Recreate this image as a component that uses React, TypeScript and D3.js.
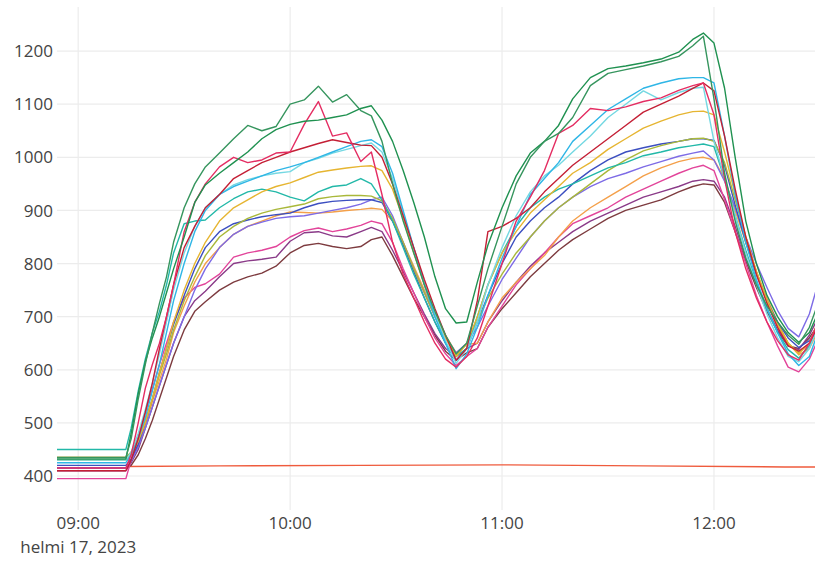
import * as d3 from "d3";

// minutes after 09:00 (helmi 17, 2023)
const minutes = [-6, 13.5, 15, 17, 19, 21, 23, 25, 27, 30, 33, 36, 40, 44, 48, 52, 56, 60,
  64, 68, 72, 76, 80, 83,
  86, 89, 92, 95, 98, 101, 104, 107, 110,
  113, 116, 120, 124, 128, 132, 136, 140, 145, 150, 155, 160, 165, 170, 174, 177,
  180, 183, 186, 189, 192, 195, 198, 201, 204, 207, 210];

const greenA = [435, 435, 470, 545, 610, 670, 725, 775, 840, 905, 950, 982, 1008, 1035, 1060, 1050, 1058, 1100,
  1108, 1134, 1104, 1118, 1088, 1078,
  1030, 950, 880, 820, 760, 710, 665, 630, 650,
  720, 790, 870, 950, 1000, 1030, 1045, 1075, 1135, 1158, 1165, 1172, 1180, 1190, 1210, 1228,
  1110, 970, 880, 810, 760, 720, 690, 665, 648, 680, 735];
const greenB = [432, 432, 480, 555, 615, 660, 700, 745, 790, 850, 915, 948, 970, 990, 1010, 1035, 1052, 1062,
  1068, 1070, 1075, 1080, 1092, 1097,
  1070, 1030, 975, 915, 850, 775, 715, 688, 690,
  765, 835, 905, 965, 1008, 1030, 1060, 1110, 1150, 1167, 1172, 1178, 1185, 1198, 1222, 1234,
  1215, 1130, 1000, 880, 800, 740, 700, 670, 652, 670, 715];
const teal = [450, 450, 490, 560, 620, 670, 710, 760, 820, 875, 880, 882, 905, 922, 935, 940, 935, 925,
  918, 935, 945, 948, 960, 950,
  920, 880, 830, 780, 735, 690, 650, 625, 640,
  700, 760, 820, 870, 905, 925, 940, 950, 965, 980, 990, 1003, 1010, 1018, 1022, 1025,
  1020, 960, 890, 825, 765, 715, 670, 638, 622, 645, 690];
const crimson = [415, 415, 440, 500, 565, 610, 650, 700, 760, 860, 915, 950, 982, 1000, 990, 995, 1008, 1010,
  1062, 1105, 1040, 1046, 992, 1010,
  930, 840, 780, 735, 690, 650, 620, 605, 625,
  660, 720, 800, 880, 925, 975, 1045, 1060, 1092, 1088, 1095, 1105, 1112, 1126, 1135, 1140,
  1080, 960, 860, 790, 735, 690, 655, 628, 618, 650, 700];
const darkRed = [410, 410, 430, 470, 520, 575, 640, 700, 760, 830, 870, 905, 930, 960, 975, 990, 1000, 1010,
  1018, 1026, 1033, 1028, 1023, 1022,
  1000, 950, 890, 830, 770, 715, 665, 618, 640,
  730, 860, 870, 885, 905, 935, 960, 985, 1010, 1035, 1060, 1085, 1100, 1115, 1130, 1140,
  1125, 1040, 940, 850, 780, 725, 680, 645, 635, 650, 690];
const skyBlue = [425, 425, 440, 470, 510, 560, 610, 670, 730, 800, 860, 900, 930, 945, 955, 965, 975, 982,
  990, 1000, 1010, 1020, 1030, 1033,
  1020, 970, 900, 830, 760, 700, 650, 602, 630,
  680, 740, 810, 870, 930, 960, 990, 1030, 1060, 1090, 1110, 1130, 1140, 1148, 1150, 1150,
  1140, 1040, 930, 840, 770, 715, 670, 630, 608, 625, 680];
const paleCyan = [430, 430, 445, 480, 525, 575, 630, 690, 750, 820, 870, 905, 930, 948, 958, 965, 970, 973,
  990, 998, 1008, 1015, 1022, 1027,
  1010, 960, 895, 830, 765, 705, 655, 612, 640,
  690, 760, 830, 890, 935, 965, 985, 1010, 1040, 1075, 1100, 1125, 1108, 1122, 1130, 1132,
  1030, 960, 890, 820, 760, 705, 660, 625, 615, 640, 690];
const gold = [430, 430, 440, 465, 500, 545, 595, 640, 690, 750, 800, 840, 880, 905, 920, 935, 945, 952,
  962, 972, 976, 980, 983, 984,
  975, 940, 885, 820, 760, 705, 660, 625, 650,
  700, 760, 820, 860, 895, 920, 945, 970, 990, 1015, 1035, 1055, 1068, 1080, 1086, 1087,
  1080, 1010, 930, 850, 785, 730, 685, 650, 630, 650, 700];
const olive = [435, 435, 445, 470, 505, 545, 590, 630, 675, 730, 775, 815, 850, 870, 885, 895, 902, 907,
  912, 922, 926, 928, 928, 927,
  918, 885, 840, 790, 745, 700, 660, 628, 648,
  690, 735, 780, 820, 850, 880, 905, 925, 950, 975, 995, 1012, 1022, 1030, 1035, 1036,
  1030, 990, 920, 850, 785, 730, 685, 650, 632, 650, 690];
const blue = [420, 420, 432, 460, 500, 545, 595, 640, 685, 740, 790, 830, 860, 875, 882, 888, 892, 895,
  905, 913, 917, 919, 920, 920,
  915, 880, 835, 785, 735, 690, 650, 618, 640,
  690, 740, 800, 850, 880, 905, 925, 950, 975, 995, 1010, 1018, 1025, 1030, 1035, 1035,
  1032, 985, 910, 840, 780, 730, 690, 660, 642, 655, 680];
const violet = [415, 415, 428, 455, 490, 530, 570, 610, 650, 700, 750, 790, 830, 855, 870, 878, 885, 888,
  890, 895, 900, 905, 912, 920,
  925, 890, 840, 790, 745, 700, 662, 632, 650,
  680, 720, 770, 810, 850, 880, 905, 925, 945, 960, 970, 982, 992, 1002, 1008, 1012,
  995, 955, 905, 850, 800, 755, 712, 678, 662, 705, 775];
const orange = [435, 435, 440, 460, 495, 540, 580, 620, 670, 720, 765, 800, 830, 855, 870, 880, 890, 897,
  896, 895, 897, 900, 902, 904,
  902, 880, 840, 795, 750, 705, 665, 632, 648,
  650, 690, 735, 765, 790, 815, 850, 880, 905, 925, 945, 965, 980, 992, 998, 1000,
  995, 960, 900, 840, 785, 735, 690, 650, 628, 640, 680];
const magenta = [395, 395, 430, 475, 520, 565, 610, 650, 690, 735, 755, 762, 780, 812, 820, 825, 832, 850,
  862, 867, 860, 865, 872, 880,
  875, 840, 790, 745, 700, 660, 630, 608, 625,
  640, 680, 720, 760, 790, 820, 850, 875, 890, 905, 925, 940, 955, 970, 980, 985,
  975, 920, 860, 800, 740, 690, 645, 605, 596, 620, 665];
const plum = [410, 410, 425, 450, 490, 530, 570, 610, 650, 700, 730, 748, 775, 800, 805, 808, 812, 842,
  858, 860, 852, 850, 860, 868,
  860, 825, 785, 745, 705, 668, 640, 625, 640,
  650, 690, 730, 765, 795, 820, 840, 860, 880, 895, 910, 925, 935, 945, 955, 958,
  955, 925, 870, 810, 760, 715, 675, 645, 638, 665, 705];
const brown = [415, 415, 420, 440, 470, 505, 545, 585, 625, 675, 710, 728, 750, 765, 775, 782, 795, 820,
  834, 838, 832, 828, 832, 845,
  850, 815, 775, 735, 700, 665, 635, 618, 632,
  640, 680, 715, 745, 775, 800, 825, 845, 865, 885, 900, 910, 920, 935, 945, 950,
  948, 915, 860, 805, 755, 710, 672, 645, 640, 660, 690];

// the flat line starts when the others leave their resting level
const flatMinutes = [14, 40, 80, 120, 160, 200, 210];
const flatValues = [418, 419, 420, 421, 419, 417, 417];

const yTickValues = [400, 500, 600, 700, 800, 900, 1000, 1100, 1200];
const dateLabel = "helmi 17, 2023";

const series = [brown, plum, magenta, orange, violet, blue, olive, teal, gold, paleCyan, skyBlue, darkRed, crimson, greenB, greenA];
const colors = ["#7d3b3f", "#8a3a88", "#e2449a", "#f4a04a", "#7d6be6", "#3c4fc0", "#a9b83a", "#22b8a8", "#e6b531", "#74d8e2", "#2fb6e6", "#c41f35", "#e42d62", "#1f9150", "#36955e"];
const flatColor = "#ef5b3d";

export default function App() {
  const width = 815;
  const height = 561;
  const start = new Date(2023, 1, 17, 9, 0, 0);
  const at = (m: number) => new Date(start.getTime() + m * 60000);

  const x = d3.scaleTime().domain([at(-6), at(208.6)]).range([57, 815]);
  const y = d3.scaleLinear().domain([336, 1283]).range([510, 7]);
  const line = d3.line<[number, number]>().x((d) => x(at(d[0]))).y((d) => y(d[1]));

  const xTicks = d3.timeHour.range(at(0), at(181));
  const fmt = d3.timeFormat("%H:%M");

  return (
    <svg width={width} height={height} style={{ position: "absolute", left: 0, top: 0, background: "#fff" }}
      fontFamily="'Open Sans', sans-serif">
      <defs>
        <clipPath id="plot">
          <rect x={57} y={7} width={width - 57} height={503} />
        </clipPath>
      </defs>
      <g>
        {yTickValues.map((v) => (
          <line key={"gy" + v} x1={57} x2={width} y1={y(v)} y2={y(v)} stroke="#ececec" strokeWidth={1.2} />
        ))}
        {xTicks.map((d) => (
          <line key={"gx" + d.getTime()} x1={x(d)} x2={x(d)} y1={7} y2={510} stroke="#ececec" strokeWidth={1.2} />
        ))}
      </g>
      <g clipPath="url(#plot)" fill="none" strokeWidth={1.4} strokeLinejoin="round">
        <path d={line(flatMinutes.map((m, i) => [m, flatValues[i]]) as [number, number][]) || ""} stroke={flatColor} />
        {series.map((vals, k) => (
          <path key={k} d={line(minutes.map((m, i) => [m, vals[i]]) as [number, number][]) || ""} stroke={colors[k]} />
        ))}
      </g>
      <g fill="#444" fontSize={17}>
        {yTickValues.map((v) => (
          <text key={"ty" + v} x={53} y={y(v)} dy="0.36em" textAnchor="end">{v}</text>
        ))}
        {xTicks.map((d) => (
          <text key={"tx" + d.getTime()} x={x(d)} y={529} textAnchor="middle">{fmt(d)}</text>
        ))}
        <text x={x(at(0))} y={553} textAnchor="middle">{dateLabel}</text>
      </g>
    </svg>
  );
}
